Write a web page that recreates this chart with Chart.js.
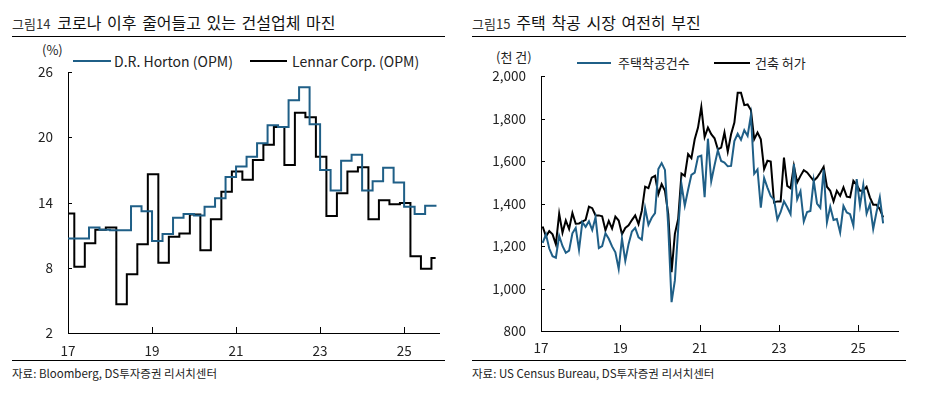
<!DOCTYPE html>
<html>
<head>
<meta charset="utf-8">
<script src="https://cdn.jsdelivr.net/npm/chart.js@4.4.1/dist/chart.umd.min.js"></script>
<style>
  body { margin: 0; width: 928px; height: 397px; background: #fff; position: relative; overflow: hidden;
         font-family: 'Noto Sans CJK KR', 'Noto Sans', sans-serif; color: #222; }
  canvas { position: absolute; top: 0; }
  .txt { position: absolute; white-space: nowrap; line-height: 16px; }
  .title { position: absolute; white-space: nowrap; line-height: 20px; }
  .title .no { font-size: 13px; color: #333; }
  .title .main { font-size: 16px; color: #111; word-spacing: 2px; }
  .rule { position: absolute; height: 1px; background: #000; }
  .key { position: absolute; height: 2px; }
  .small { font-size: 13px; }
  .latin { font-size: 14px; }
  .src { font-size: 11.5px; color: #222; }
</style>
</head>
<body>
<div class="title" style="left:12px;top:12px"><span class="no">그림14</span><span class="main" style="margin-left:7px">코로나 이후 줄어들고 있는 건설업체 마진</span></div>
<div class="rule" style="left:12px;top:36px;width:433px"></div>
<div class="txt small" style="left:42px;top:42px">(%)</div>
<div class="key" style="left:73px;top:60px;width:38px;background:#1f5f87"></div>
<div class="txt latin" style="left:114px;top:53px">D.R. Horton (OPM)</div>
<div class="key" style="left:250px;top:60px;width:37px;background:#000"></div>
<div class="txt latin" style="left:292px;top:53px">Lennar Corp. (OPM)</div>
<div class="rule" style="left:12px;top:360px;width:433px"></div>
<div class="txt src" style="left:12px;top:365px">자료: Bloomberg, DS투자증권 리서치센터</div>

<div class="title" style="left:472px;top:12px"><span class="no">그림15</span><span class="main" style="margin-left:6px">주택 착공 시장 여전히 부진</span></div>
<div class="rule" style="left:472px;top:36px;width:434px"></div>
<div class="txt small" style="left:496px;top:49px">(천 건)</div>
<div class="key" style="left:577px;top:62px;width:34px;background:#1f5f87"></div>
<div class="txt small" style="left:618px;top:55px">주택착공건수</div>
<div class="key" style="left:714px;top:62px;width:36px;background:#000"></div>
<div class="txt small" style="left:755px;top:55px">건축 허가</div>
<div class="rule" style="left:472px;top:360px;width:434px"></div>
<div class="txt src" style="left:472px;top:365px">자료: US Census Bureau, DS투자증권 리서치센터</div>

<canvas id="marginChart" width="464" height="397" style="left:0"></canvas>
<canvas id="housingChart" width="464" height="397" style="left:464px"></canvas>

<script>
// 그림14: quarterly operating margin (%), stepped
const hortonStart = 2017.0;     // D.R. Horton quarters (Dec/Mar/Jun/Sep FY)
const lennarStart = 2016.9;     // Lennar quarters (Nov/Feb/May/Aug FY)
const marginEnd = 2025.77;      // last value held until here
const hortonOpm = [10.7, 10.7, 11.7, 11.5, 11.45, 11.45, 13.65, 13.2, 10.45, 11.1, 12.6, 12.95,
                   12.8, 13.6, 14.4, 16.35, 17.3, 18.2, 19.45, 21.1, 20.95, 23.4, 24.6, 21.2,
                   17.0, 15.1, 17.85, 18.4, 15.1, 15.95, 17.2, 15.85, 13.6, 12.95, 13.7];
const lennarOpm = [13.0, 8.1, 10.25, 11.5, 11.7, 4.65, 7.4, 10.15, 16.6, 8.45, 10.85, 11.15,
                   12.9, 9.6, 12.45, 15.0, 16.85, 16.1, 17.9, 19.3, 20.95, 17.45, 22.25, 21.85,
                   18.2, 12.75, 14.85, 16.85, 17.25, 12.45, 14.2, 13.85, 13.95, 9.05, 7.9, 8.9];
const marginTicks = [2, 8, 14, 20, 26];

// 그림15: monthly housing starts / building permits (천 건, SAAR), from 2017-01
const firstYear = 2017;
const housingStarts = [
  1215, 1255, 1188, 1152, 1145, 1248, 1200, 1168, 1178, 1260, 1285, 1182, // 2017
  1312, 1290, 1316, 1275, 1335, 1190, 1200, 1260, 1234, 1198, 1170, 1092, // 2018
  1235, 1130, 1210, 1268, 1285, 1241, 1230, 1378, 1300, 1333, 1355, 1562, // 2019
  1590, 1558, 1290, 936, 1038, 1280, 1490, 1390, 1465, 1535, 1545, 1620,  // 2020
  1625, 1430, 1705, 1505, 1580, 1650, 1600, 1593, 1575, 1577, 1694, 1728, // 2021
  1700, 1745, 1718, 1815, 1540, 1560, 1380, 1520, 1475, 1435, 1418, 1325, // 2022
  1360, 1410, 1382, 1350, 1585, 1420, 1458, 1315, 1360, 1365, 1508, 1400, // 2023
  1380, 1560, 1311, 1385, 1322, 1327, 1264, 1389, 1358, 1350, 1296, 1515, // 2024
  1390, 1488, 1353, 1397, 1280, 1360, 1429, 1307                          // 2025
];
const buildingPermits = [
  1292, 1245, 1270, 1255, 1208, 1352, 1263, 1320, 1280, 1355, 1305, 1306, // 2017
  1315, 1323, 1385, 1378, 1344, 1344, 1340, 1274, 1318, 1282, 1338, 1320, // 2018
  1256, 1285, 1297, 1322, 1344, 1303, 1366, 1479, 1472, 1522, 1530, 1444, // 2019
  1491, 1460, 1350, 1077, 1257, 1327, 1541, 1530, 1632, 1613, 1702, 1757, // 2020
  1854, 1713, 1757, 1726, 1707, 1655, 1663, 1734, 1644, 1726, 1781, 1921, // 2021
  1921, 1863, 1866, 1840, 1702, 1734, 1702, 1562, 1601, 1597, 1405, 1410, // 2022
  1410, 1616, 1483, 1472, 1577, 1499, 1530, 1557, 1546, 1526, 1507, 1522, // 2023
  1546, 1572, 1479, 1460, 1410, 1460, 1436, 1476, 1432, 1429, 1507, 1488, // 2024
  1460, 1460, 1479, 1429, 1394, 1394, 1374, 1335                          // 2025
];
const housingTicks = [800, 1000, 1200, 1400, 1600, 1800, 2000];
const yearTicks = [2017, 2019, 2021, 2023, 2025];

const BLUE = '#1f5f87';
const tickFont = {family: "'Noto Sans CJK KR', 'Noto Sans', sans-serif", size: 13.5};

// inward tick marks on both axes
const innerTicks = {
  id: 'innerTicks',
  afterDraw(chart, args, opts) {
    const {ctx, chartArea: a, scales: {x, y}} = chart;
    ctx.save();
    ctx.strokeStyle = '#000';
    ctx.lineWidth = 1;
    ctx.beginPath();
    x.ticks.forEach(t => {
      const px = Math.round(x.getPixelForValue(t.value)) + 0.5;
      ctx.moveTo(px, a.bottom);
      ctx.lineTo(px, a.bottom - opts.xLen);
    });
    y.ticks.forEach(t => {
      const py = Math.round(y.getPixelForValue(t.value)) + 0.5;
      ctx.moveTo(a.left, py);
      ctx.lineTo(a.left + opts.yLen, py);
    });
    ctx.stroke();
    ctx.restore();
  }
};

function axes(xMin, xMax, yMin, yMax, yTicks, yWidth, xPad, yFmt) {
  return {
    x: {
      type: 'linear', min: xMin, max: xMax,
      grid: {display: false, drawTicks: false},
      border: {display: true, color: '#000', width: 1},
      afterBuildTicks: s => { s.ticks = yearTicks.map(v => ({value: v})); },
      afterFit: s => { s.height = 30; },
      ticks: {font: tickFont, color: '#222', padding: xPad, maxRotation: 0,
              callback: v => String(v).slice(2)}
    },
    y: {
      min: yMin, max: yMax,
      grid: {display: false, drawTicks: false},
      border: {display: true, color: '#000', width: 1},
      afterBuildTicks: s => { s.ticks = yTicks.map(v => ({value: v})); },
      afterFit: s => { s.width = yWidth; },
      ticks: {font: tickFont, color: '#222', padding: 15, callback: yFmt}
    }
  };
}

const baseOpts = {
  responsive: false, animation: false,
  plugins: {legend: {display: false}, tooltip: {enabled: false}},
  elements: {point: {radius: 0}}
};

new Chart(document.getElementById('marginChart'), {
  type: 'line',
  data: {
    datasets: [{
      label: 'D.R. Horton (OPM)',
      data: hortonOpm.map((v, i) => ({x: hortonStart + i * 0.25, y: v}))
        .concat([{x: marginEnd, y: hortonOpm[hortonOpm.length - 1]}]),
      borderColor: BLUE, borderWidth: 2, stepped: 'before'
    }, {
      label: 'Lennar Corp. (OPM)',
      data: lennarOpm.map((v, i) => ({x: lennarStart + i * 0.25, y: v}))
        .concat([{x: marginEnd - 0.02, y: lennarOpm[lennarOpm.length - 1]}]),
      borderColor: '#000', borderWidth: 2, stepped: 'before'
    }]
  },
  options: Object.assign({}, baseOpts, {
    layout: {padding: {top: 72, right: 25, bottom: 34, left: 0}},
    scales: axes(2017, 2025.83, 2, 26, marginTicks, 68, 10, v => v),
    plugins: Object.assign({}, baseOpts.plugins, {innerTicks: {xLen: 6, yLen: 4}})
  }),
  plugins: [innerTicks]
});

const monthX = i => firstYear + (i + 0.5) / 12;

new Chart(document.getElementById('housingChart'), {
  type: 'line',
  data: {
    datasets: [{
      label: '주택착공건수',
      data: housingStarts.map((v, i) => ({x: monthX(i), y: v})),
      borderColor: BLUE, borderWidth: 2, tension: 0
    }, {
      label: '건축 허가',
      data: buildingPermits.map((v, i) => ({x: monthX(i), y: v})),
      borderColor: '#000', borderWidth: 2, tension: 0
    }]
  },
  options: Object.assign({}, baseOpts, {
    layout: {padding: {top: 76, right: 30, bottom: 36, left: 0}},
    scales: axes(2017, 2026, 800, 2000, housingTicks, 77, 9, v => v.toLocaleString('en-US')),
    plugins: Object.assign({}, baseOpts.plugins, {innerTicks: {xLen: 6, yLen: 4}})
  }),
  plugins: [innerTicks]
});
</script>
</body>
</html>
